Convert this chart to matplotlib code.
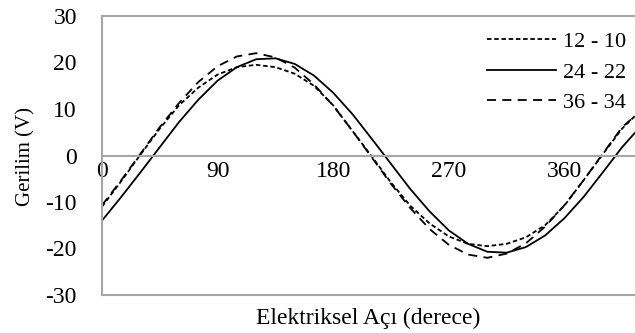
import matplotlib
matplotlib.use("Agg")
import matplotlib.pyplot as plt

plt.rcParams['font.family'] = ['Liberation Serif', 'DejaVu Serif']
plt.rcParams['axes.unicode_minus'] = False

# Elektriksel açı (derece)
aci = [0, 15, 30, 45, 60, 75, 90, 105, 120, 135, 150, 165, 180, 195, 210,
       225, 240, 255, 270, 285, 300, 315, 330, 345, 360, 375, 390, 405, 415]

# 12 - 10
v_12_10 = [-11.0, -5.5, 0.2, 5.8, 10.8, 14.6, 17.4, 19.0, 19.5, 19.0, 17.6, 15.0,
           10.8, 5.3, -0.2, -5.8, -10.8, -14.6, -17.4, -19.0, -19.5, -19.0, -17.6,
           -15.0, -10.8, -5.3, 0.3, 5.8, 8.5]
# 24 - 22
v_24_22 = [-14.0, -8.9, -3.6, 1.8, 7.2, 12.0, 16.1, 19.0, 20.7, 20.9, 19.7, 17.2,
           13.5, 8.9, 3.6, -1.8, -7.2, -12.0, -16.1, -19.0, -20.7, -20.9, -19.7,
           -17.2, -13.5, -8.9, -3.6, 1.8, 4.9]
# 36 - 34
v_36_34 = [-10.7, -5.3, 0.4, 6.1, 11.3, 15.8, 19.2, 21.3, 22.0, 21.1, 18.9, 15.3,
           10.7, 5.3, -0.4, -6.1, -11.3, -15.8, -19.2, -21.3, -22.0, -21.1, -18.9,
           -15.3, -10.7, -5.3, 0.4, 6.1, 8.5]

x_ticks = [0, 90, 180, 270, 360]
y_ticks = [-30, -20, -10, 0, 10, 20, 30]

fig = plt.figure(figsize=(6.35, 3.33), dpi=100)
ax = fig.add_axes([102 / 635, 1 - 295 / 333, 1 - 102 / 635, (295 - 16) / 333])

ax.plot(aci, v_12_10, color='black', lw=1.3, ls=(0, (2.5, 1.5)), label='12 - 10')
ax.plot(aci, v_24_22, color='black', lw=1.3, ls='-', label='24 - 22')
ax.plot(aci, v_36_34, color='black', lw=1.3, ls=(0, (5, 3.5)), label='36 - 34')

ax.set_xlim(0, 415)
ax.set_ylim(-30, 30)
ax.set_xticks(x_ticks)
ax.set_yticks(y_ticks)
ax.tick_params(length=0, labelsize=17, colors='black')
ax.tick_params(axis='x', pad=4)
ax.tick_params(axis='y', pad=18)

gray = '#a6a6a6'
ax.spines['right'].set_visible(False)
ax.spines['bottom'].set_position(('data', 0))
for s in ['left', 'top', 'bottom']:
    ax.spines[s].set_color(gray)
    ax.spines[s].set_linewidth(1.5)
ax.axhline(-30, color=gray, lw=1.5, clip_on=False)

ax.set_xlabel('Elektriksel Açı (derece)', fontsize=17)
ax.xaxis.set_label_coords(0.5, -0.085)
ax.xaxis.label.set_va('center')
fig.text(26 / 635, 1 - 157 / 333, 'Gerilim (V)', rotation=90, fontsize=15,
         ha='center', va='center')

ax.legend(loc='upper right', bbox_to_anchor=(1.012, 1.0), frameon=False,
          fontsize=16, handlelength=3.1, handletextpad=0.3, labelspacing=0.45,
          borderaxespad=0.3)

fig.savefig('out.png', dpi=100)
